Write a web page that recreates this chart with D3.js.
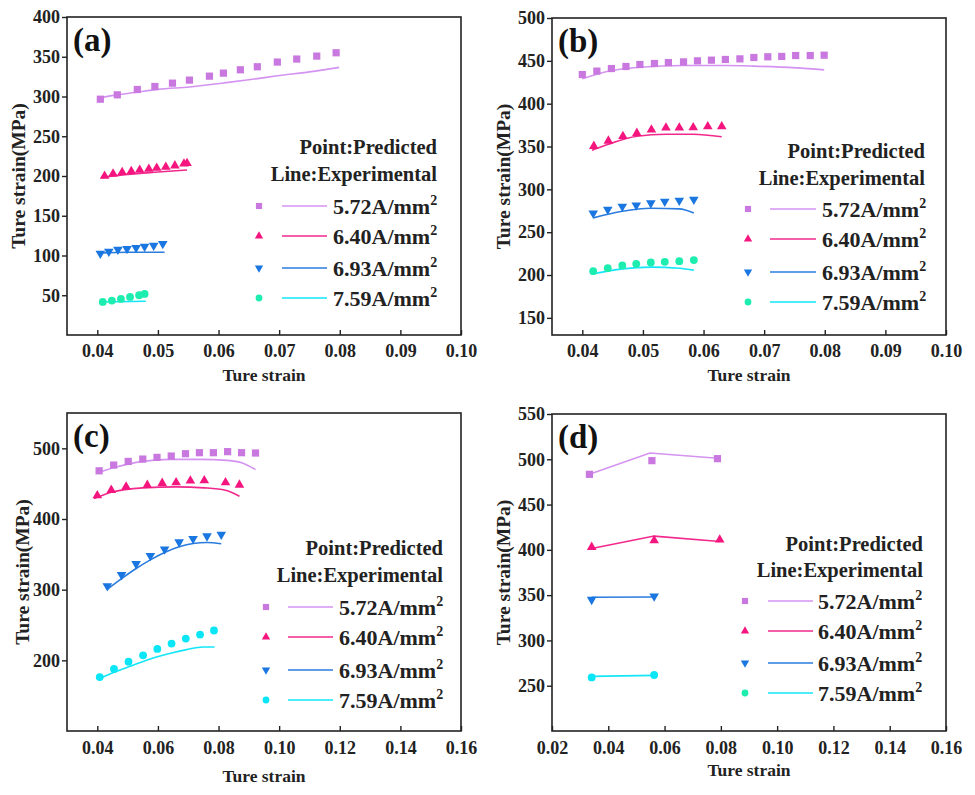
<!DOCTYPE html>
<html>
<head>
<meta charset="utf-8">
<script src="https://cdn.jsdelivr.net/npm/d3@7"></script>
<style>
  html, body { margin: 0; padding: 0; background: #fff; }
  svg { display: block; }
</style>
</head>
<body>
<svg id="chart" width="975" height="795"></svg>
<script>
// ---------------- DATA ----------------
const seriesNames = ["5.72A/mm", "6.40A/mm", "6.93A/mm", "7.59A/mm"];
const panelLabels = ["(a)", "(b)", "(c)", "(d)"];
const xTitle = "Ture strain";
const yTitle = "Ture strain(MPa)";
const headerPoint = "Point:Predicted";
const headerLine = "Line:Experimental";

// Panel (a)
const aXTicks = [0.04, 0.05, 0.06, 0.07, 0.08, 0.09, 0.10];
const aYTicks = [50, 100, 150, 200, 250, 300, 350, 400];
const aPred572 = [[0.0405,296.6],[0.0433,302.1],[0.0466,308.8],[0.0495,312.6],[0.0524,316.8],[0.0552,320.6],[0.0585,325.6],[0.0608,329.4],[0.0636,333.6],[0.0664,337.4],[0.0697,343.3],[0.0729,347.1],[0.0762,350.8],[0.0794,355.0]];
const aExp572 = [[0.0400,298],[0.0433,302],[0.0466,305.5],[0.0500,309],[0.0552,312],[0.0608,317],[0.0650,321],[0.0697,326],[0.0750,331],[0.0799,336.6]];
const aPred640 = [[0.0412,200],[0.0426,202.9],[0.0441,204.6],[0.0456,205.9],[0.0470,207.6],[0.0485,208.8],[0.0498,210.1],[0.0513,211.3],[0.0528,213],[0.0543,215.5],[0.0548,216]];
const aExp640 = [[0.0407,198],[0.0450,202],[0.0500,205],[0.0548,207.6]];
const aPred693 = [[0.0405,102.5],[0.0419,105],[0.0434,107.6],[0.0449,108.4],[0.0464,109.7],[0.0478,111.3],[0.0493,112.6],[0.0508,114.7]];
const aExp693 = [[0.0403,103],[0.0450,104],[0.0511,104]];
const aPred759 = [[0.0409,41.6],[0.0424,43.3],[0.0439,45.4],[0.0454,47.9],[0.0469,50],[0.0478,51.7]];
const aExp759 = [[0.0404,41.5],[0.0480,42.5]];

// Panel (b)
const bXTicks = [0.04, 0.05, 0.06, 0.07, 0.08, 0.09, 0.10];
const bYTicks = [150, 200, 250, 300, 350, 400, 450, 500];
const bPred572 = [[0.0400,434],[0.0424,438],[0.0448,441],[0.0472,443.4],[0.0495,445.7],[0.0519,446.9],[0.0542,448],[0.0567,448.8],[0.0590,450],[0.0613,450.8],[0.0636,451.6],[0.0660,452.3],[0.0683,453.9],[0.0706,454.7],[0.0729,455.1],[0.0752,456.2],[0.0776,456.2],[0.0799,456.6]];
const bExp572 = [[0.0400,429],[0.0448,438.7],[0.0495,442.6],[0.0567,444.5],[0.0636,444.5],[0.0683,443.8],[0.0753,441.8],[0.0799,439.5]];
const bPred640 = [[0.0419,350.4],[0.0443,356.6],[0.0467,362],[0.0490,365.6],[0.0514,369.5],[0.0538,371.8],[0.0560,371.8],[0.0583,372.2],[0.0607,373.3],[0.0630,373.3]];
const bExp640 = [[0.0416,345.7],[0.0443,352.7],[0.0490,362],[0.0538,364.4],[0.0583,364.4],[0.0630,361.3]];
const bPred693 = [[0.0418,272.2],[0.0442,276.5],[0.0466,280],[0.0489,281.5],[0.0513,283.9],[0.0536,285.8],[0.0560,287],[0.0584,288.1]];
const bExp693 = [[0.0418,266.7],[0.0466,274.5],[0.0513,278],[0.0560,277.2],[0.0584,272.5]];
const bPred759 = [[0.0418,204.5],[0.0442,208],[0.0466,211.2],[0.0489,213.1],[0.0513,214.7],[0.0536,215.4],[0.0560,216.2],[0.0584,217.4]];
const bExp759 = [[0.0418,201.4],[0.0466,207.2],[0.0513,209.2],[0.0560,208],[0.0584,205.7]];

// Panel (c)
const cXTicks = [0.04, 0.06, 0.08, 0.10, 0.12, 0.14, 0.16];
const cYTicks = [200, 300, 400, 500];
const cPred572 = [[0.0406,468.2],[0.0454,476.3],[0.0502,481.5],[0.0550,484.8],[0.0597,487.2],[0.0644,489.1],[0.0691,492.4],[0.0737,493.8],[0.0783,493.8],[0.0830,495.3],[0.0876,493.8],[0.0922,493.4]];
const cExp572 = [[0.0400,465.4],[0.0454,472.5],[0.0550,481.5],[0.0644,484.4],[0.0737,484.4],[0.0830,482.9],[0.0876,479.6],[0.0922,470.1]];
const cPred640 = [[0.0400,433.2],[0.0446,440.8],[0.0495,445.5],[0.0565,447.9],[0.0614,450.7],[0.0660,451.7],[0.0707,454],[0.0753,454.5],[0.0823,451.7],[0.0869,448.3]];
const cExp640 = [[0.0389,428.9],[0.0446,437.9],[0.0550,444.1],[0.0660,445.5],[0.0753,444.1],[0.0823,440.8],[0.0869,432.2]];
const cPred693 = [[0.0433,305.2],[0.0480,320.9],[0.0528,336.5],[0.0575,347.9],[0.0622,357.3],[0.0670,367.3],[0.0716,372],[0.0762,375.8],[0.0809,378.2]];
const cExp693 = [[0.0433,300.5],[0.0480,315.6],[0.0528,329.9],[0.0575,342.2],[0.0622,352.6],[0.0670,360.7],[0.0716,365.4],[0.0762,366.8],[0.0809,364.9]];
const cPred759 = [[0.0408,176.3],[0.0455,187.7],[0.0503,198.1],[0.0551,207.1],[0.0598,216.1],[0.0645,223.7],[0.0692,230.8],[0.0739,236.5],[0.0785,242.2]];
const cExp759 = [[0.0405,173.5],[0.0455,183],[0.0507,191.5],[0.0551,198.5],[0.0595,204.7],[0.0645,210.5],[0.0694,215.2],[0.0749,218.9],[0.0787,218.9]];

// Panel (d)
const dXTicks = [0.02, 0.04, 0.06, 0.08, 0.10, 0.12, 0.14, 0.16];
const dYTicks = [250, 300, 350, 400, 450, 500, 550];
const dPred572 = [[0.0333,483.4],[0.0555,498.5],[0.0788,500.7]];
const dExp572 = [[0.0333,483.4],[0.0548,507],[0.0788,501.1]];
const dPred640 = [[0.0341,403],[0.0563,410.4],[0.0796,411.1]];
const dExp640 = [[0.0341,401.5],[0.0563,415.2],[0.0796,409.3]];
const dPred693 = [[0.0341,345.1],[0.0563,348.8]];
const dExp693 = [[0.0341,347.7],[0.0563,348]];
const dPred759 = [[0.0341,259.2],[0.0563,261.8]];
const dExp759 = [[0.0341,260.3],[0.0563,261.4]];

// ---------------- STYLE / LAYOUT ----------------
const FONT = "'Liberation Serif','Times New Roman',serif";
const markerColors = ["#C978E0", "#F5157F", "#1A76E0", "#1EEDB0"];
const lineColors = ["#D493F0", "#F2288C", "#2A7CDE", "#12E6F8"];
const cyanPoint = "#0AE6F5";
const shapes = ["square", "up", "down", "circle"];

const panels = [
  { label: panelLabels[0], frame: [67, 17, 461, 335], xDomain: [0.035, 0.10], yDomain: [0, 400],
    xTicks: aXTicks, yTicks: aYTicks,
    pred: [aPred572, aPred640, aPred693, aPred759], exp: [aExp572, aExp640, aExp693, aExp759],
    circleColor: markerColors[3], legendCircle: markerColors[3], curve: d3.curveMonotoneX,
    xtb: 22, xtitle: 46, ytitle: -49,
    lg: { hx: 437, hy1: 154, hy2: 181, mx: 259, ys: [206, 236, 268, 298], lx1: 282, lx2: 327, tx: 333 } },
  { label: panelLabels[1], frame: [552, 18, 946, 335], xDomain: [0.035, 0.10], yDomain: [130, 500],
    xTicks: bXTicks, yTicks: bYTicks,
    pred: [bPred572, bPred640, bPred693, bPred759], exp: [bExp572, bExp640, bExp693, bExp759],
    circleColor: markerColors[3], legendCircle: markerColors[3], curve: d3.curveMonotoneX,
    xtb: 22, xtitle: 46, ytitle: -49,
    lg: { hx: 925, hy1: 158, hy2: 185, mx: 748, ys: [209, 239, 272, 302], lx1: 770, lx2: 816, tx: 822 } },
  { label: panelLabels[2], frame: [67, 413, 461, 731], xDomain: [0.03, 0.16], yDomain: [100, 550],
    xTicks: cXTicks, yTicks: cYTicks,
    pred: [cPred572, cPred640, cPred693, cPred759], exp: [cExp572, cExp640, cExp693, cExp759],
    circleColor: cyanPoint, legendCircle: cyanPoint, curve: d3.curveMonotoneX,
    xtb: 23, xtitle: 51, ytitle: -45,
    lg: { hx: 443, hy1: 555, hy2: 582, mx: 266, ys: [607, 637, 670, 700], lx1: 288, lx2: 333, tx: 339 } },
  { label: panelLabels[3], frame: [552, 414, 946, 731], xDomain: [0.02, 0.16], yDomain: [200, 550],
    xTicks: dXTicks, yTicks: dYTicks,
    pred: [dPred572, dPred640, dPred693, dPred759], exp: [dExp572, dExp640, dExp693, dExp759],
    circleColor: cyanPoint, legendCircle: markerColors[3], curve: d3.curveLinear,
    xtb: 23, xtitle: 45, ytitle: -49,
    lg: { hx: 923, hy1: 551, hy2: 577, mx: 745, ys: [601, 631, 663, 693], lx1: 768, lx2: 813, tx: 818 } }
];

const svg = d3.select("#chart");
const fmt = d3.format(".2f");

function symbolPath(shape, big) {
  let type, size;
  if (shape === "square") { type = d3.symbolSquare; size = big ? 52 : 38; }
  else if (shape === "circle") { type = d3.symbolCircle; size = big ? 48 : 36; }
  else { type = d3.symbolTriangle; size = big ? 40 : 30; }
  return d3.symbol().type(type).size(size)();
}

panels.forEach(p => {
  const [x0, y0, x1, y1] = p.frame;
  const x = d3.scaleLinear().domain(p.xDomain).range([x0, x1]);
  const y = d3.scaleLinear().domain(p.yDomain).range([y1, y0]);
  const g = svg.append("g");

  // y axis (outward ticks)
  const yAxis = d3.axisLeft(y).tickValues(p.yTicks).tickSize(5).tickPadding(2).tickFormat(d3.format("d"));
  const ya = g.append("g").attr("transform", `translate(${x0},0)`).call(yAxis);
  ya.select(".domain").remove();
  ya.selectAll("line").attr("stroke", "#222").attr("stroke-width", 1.4);
  ya.selectAll("text").attr("font-family", FONT).attr("font-weight", "bold").attr("font-size", 18).attr("fill", "#222");

  // x axis (inward ticks)
  const xAxis = d3.axisBottom(x).tickValues(p.xTicks).tickSize(-5).tickPadding(0).tickFormat(fmt);
  const xa = g.append("g").attr("transform", `translate(0,${y1})`).call(xAxis);
  xa.select(".domain").remove();
  xa.selectAll("line").attr("stroke", "#222").attr("stroke-width", 1.4);
  xa.selectAll("text").attr("font-family", FONT).attr("font-weight", "bold").attr("font-size", 18).attr("fill", "#222")
    .attr("dy", null).attr("y", p.xtb);

  // frame
  g.append("rect").attr("x", x0).attr("y", y0).attr("width", x1 - x0).attr("height", y1 - y0)
    .attr("fill", "none").attr("stroke", "#222").attr("stroke-width", 1.6);

  // titles
  g.append("text").attr("x", (x0 + x1) / 2).attr("y", y1 + p.xtitle).attr("text-anchor", "middle")
    .attr("font-family", FONT).attr("font-weight", "bold").attr("font-size", 17.5).attr("fill", "#222").text(xTitle);
  g.append("text").attr("transform", `translate(${x0 + p.ytitle + 7},${(y0 + y1) / 2}) rotate(-90)`)
    .attr("text-anchor", "middle").attr("font-family", FONT).attr("font-weight", "bold").attr("font-size", 19.5)
    .attr("fill", "#222").text(yTitle);

  // panel label
  g.append("text").attr("x", x0 + 6).attr("y", y0 + 34).attr("font-family", FONT).attr("font-weight", "bold")
    .attr("font-size", 33).attr("fill", "#111").text(p.label);

  // lines (experimental)
  const line = d3.line().x(d => x(d[0])).y(d => y(d[1])).curve(p.curve);
  p.exp.forEach((s, i) => {
    g.append("path").datum(s).attr("d", line).attr("fill", "none")
      .attr("stroke", lineColors[i]).attr("stroke-width", 1.6);
  });

  // points (predicted)
  p.pred.forEach((s, i) => {
    const col = i === 3 ? p.circleColor : markerColors[i];
    g.append("g").selectAll("path").data(s).join("path")
      .attr("d", symbolPath(shapes[i], true))
      .attr("transform", d => `translate(${x(d[0])},${y(d[1])})${shapes[i] === "down" ? " rotate(180)" : ""}`)
      .attr("fill", col);
  });

  // legend
  const lg = p.lg;
  g.append("text").attr("x", lg.hx).attr("y", lg.hy1).attr("text-anchor", "end")
    .attr("font-family", FONT).attr("font-weight", "bold").attr("font-size", 20.5).attr("fill", "#222").text(headerPoint);
  g.append("text").attr("x", lg.hx).attr("y", lg.hy2).attr("text-anchor", "end")
    .attr("font-family", FONT).attr("font-weight", "bold").attr("font-size", 20.5).attr("fill", "#222").text(headerLine);
  seriesNames.forEach((name, i) => {
    const yy = lg.ys[i];
    const col = i === 3 ? p.legendCircle : markerColors[i];
    g.append("path").attr("d", symbolPath(shapes[i], false))
      .attr("transform", `translate(${lg.mx},${yy})${shapes[i] === "down" ? " rotate(180)" : ""}`)
      .attr("fill", col);
    g.append("line").attr("x1", lg.lx1).attr("x2", lg.lx2).attr("y1", yy).attr("y2", yy)
      .attr("stroke", lineColors[i]).attr("stroke-width", 1.6);
    const t = g.append("text").attr("x", lg.tx).attr("y", yy + 8)
      .attr("font-family", FONT).attr("font-weight", "bold").attr("font-size", 22).attr("fill", "#222");
    t.append("tspan").text(name);
    t.append("tspan").attr("dy", -9).attr("font-size", 14).text("2");
  });
});
</script>
</body>
</html>
